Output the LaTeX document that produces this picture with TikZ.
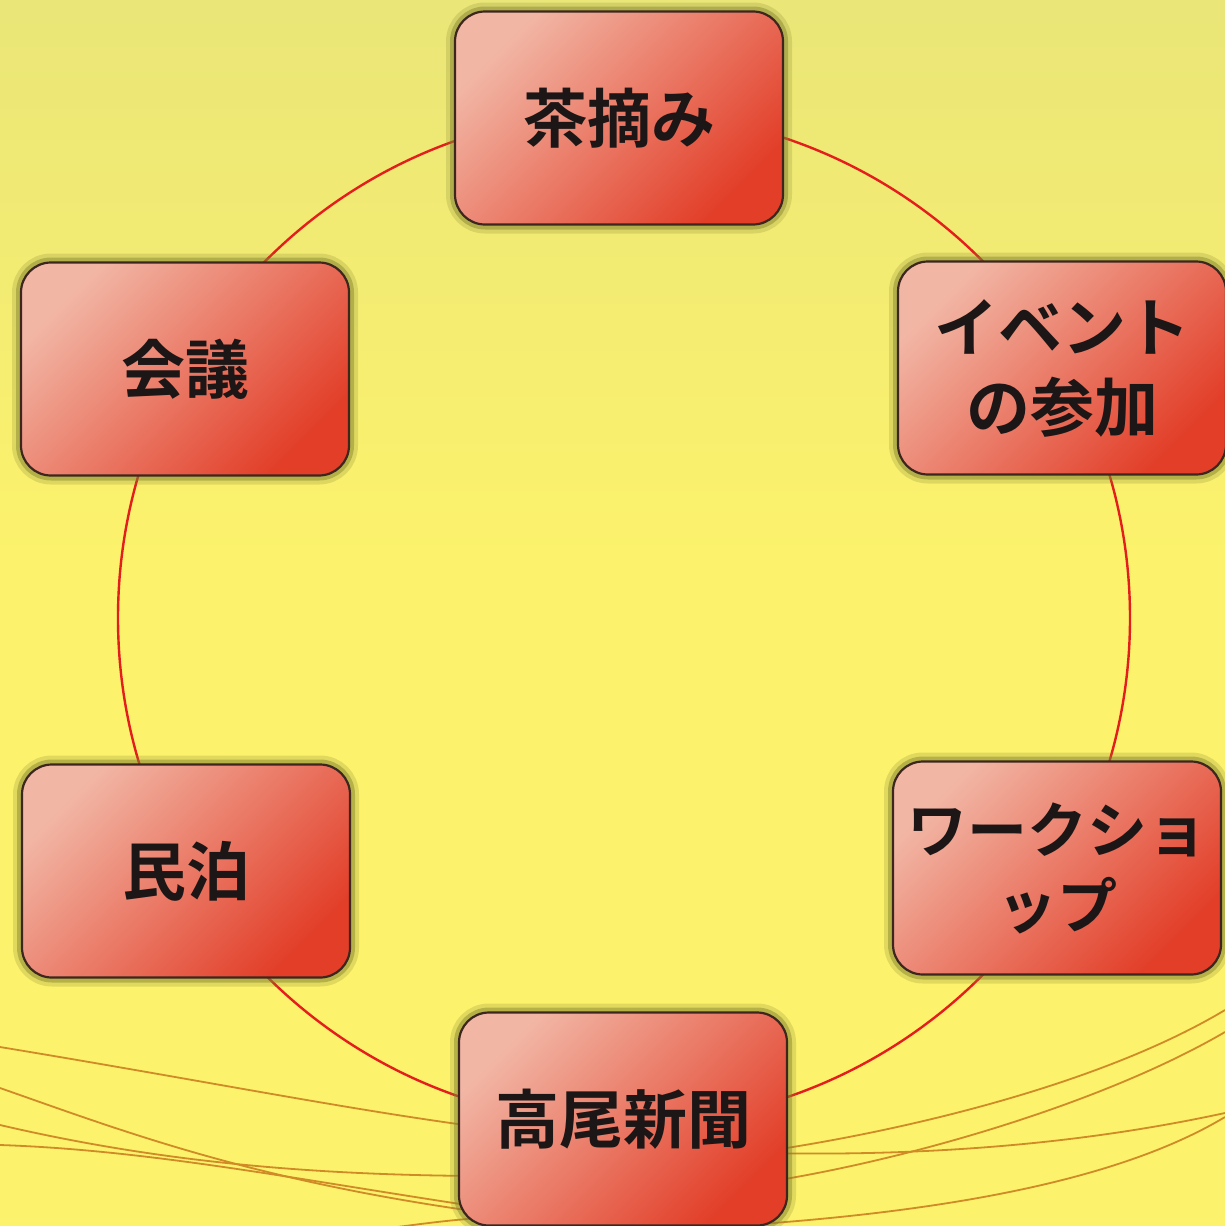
\documentclass[tikz,border=0pt]{standalone}
\usepackage{fontspec}
\newfontfamily\cjk{Noto Sans CJK JP Bold}
\definecolor{bgY}{RGB}{252,242,108}
\definecolor{bgTop}{RGB}{234,230,120}
\definecolor{cardL}{RGB}{242,182,165}
\definecolor{cardD}{RGB}{226,62,40}
\definecolor{cardEdge}{RGB}{60,38,30}
\definecolor{glowc}{RGB}{130,130,45}
\definecolor{ringc}{RGB}{228,30,28}
\definecolor{threadc}{RGB}{208,138,38}
\definecolor{inkc}{RGB}{28,22,22}
\tikzset{
  card/.style={rounded corners=30pt, minimum width=328pt, minimum height=213pt,
    draw=cardEdge, line width=2.2pt, top color=cardL, bottom color=cardD, shading angle=45,
    preaction={draw=glowc, fill=none, line width=18pt, opacity=0.22},
    preaction={draw=glowc, fill=none, line width=10pt, opacity=0.45},
    font=\cjk\fontsize{64}{80}\selectfont, align=center, text=inkc, inner sep=0pt},
  ringline/.style={draw=ringc, line width=2.4pt},
  thread/.style={draw=threadc, line width=1.8pt}
}
\begin{document}
\begin{tikzpicture}[x=1pt,y=-1pt]
\useasboundingbox (0,0) rectangle (1225,1226);
\fill[bgY] (0,0) rectangle (1225,1226);
\shade[top color=bgTop, bottom color=bgY] (0,0) rectangle (1225,560);
% threads left
\draw[thread] (0,1047) .. controls (200,1080) and (350,1110) .. (480,1127);
\draw[thread] (0,1088) .. controls (120,1130) and (250,1180) .. (480,1212);
\draw[thread] (0,1125) .. controls (150,1160) and (300,1175) .. (480,1176);
\draw[thread] (0,1145) .. controls (150,1150) and (300,1180) .. (480,1207);
\draw[thread] (390,1228) .. controls (420,1224) and (450,1220) .. (480,1218);
% threads right
\draw[thread] (760,1152) .. controls (900,1132) and (1100,1085) .. (1225,1010);
\draw[thread] (760,1183) .. controls (900,1162) and (1100,1105) .. (1225,1032);
\draw[thread] (760,1153) .. controls (950,1157) and (1100,1140) .. (1225,1113);
\draw[thread] (760,1224) .. controls (950,1210) and (1120,1180) .. (1225,1117);
% ring
\coordinate (ring) at (624,618);
\draw[ringline] (ring) circle[radius=506];
% cards
\node[card] (cha) at (619,118) {茶摘み};
\node[card] (ev) at (1062,368) {イベント\\の参加};
\node[card, font=\cjk\fontsize{60}{76}\selectfont] (ws) at (1057,868) {ワークショ\\ップ};
\node[card] (ko) at (623,1119) {高尾新聞};
\node[card] (mi) at (186,871) {民泊};
\node[card] (kai) at (185,369) {会議};
\end{tikzpicture}
\end{document}
